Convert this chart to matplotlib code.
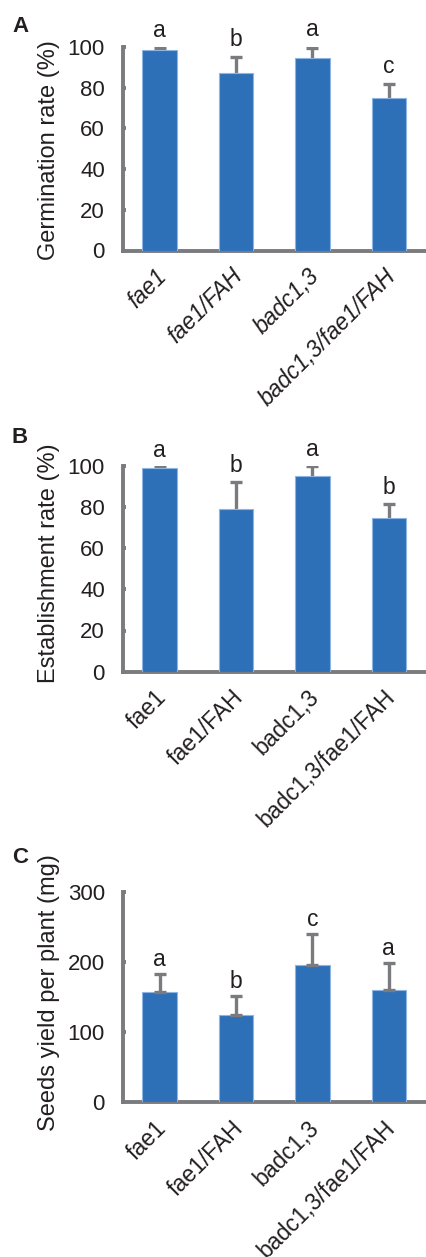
import numpy as np
import matplotlib
matplotlib.use("Agg")
import matplotlib.pyplot as plt
import matplotlib.transforms as mtrans

plt.rcParams['font.family'] = ['Liberation Sans', 'DejaVu Sans']

genotypes = ['fae1', 'fae1/FAH', 'badc1,3', 'badc1,3/fae1/FAH']

germination = [98.4, 87.4, 94.4, 74.8]
germination_err = [1.0, 7.7, 5.3, 7.2]
germination_sig = ['a', 'b', 'a', 'c']

establishment = [98.7, 78.8, 94.9, 74.8]
establishment_err = [1.0, 13.4, 5.0, 6.5]
establishment_sig = ['a', 'b', 'a', 'b']

seed_yield = [157, 124, 196, 161]
seed_yield_err = [26, 28, 44, 38]
seed_yield_sig = ['a', 'b', 'c', 'a']

BAR = '#2e70b8'
EDGE = '#8db4e2'
GREY = '#7a7b7e'
TXT = '#231f20'

W, H = 427, 1257
fig = plt.figure(figsize=(W / 100, H / 100), dpi=100)


def px_axes(top, bottom, left=123):
    return fig.add_axes([left / W, 1 - bottom / H, 1 - left / W, (bottom - top) / H])


def panel(ax, vals, errs, sig, ymax, step, ylabel, label_y, italic, both_caps, txt_off):
    x = np.arange(len(vals))
    ax.bar(x, vals, width=0.45, color=BAR, edgecolor=EDGE, linewidth=0.8, zorder=3)
    if both_caps:
        ax.errorbar(x, vals, yerr=[np.zeros(len(errs)), errs], fmt='none', ecolor=GREY,
                    elinewidth=2.4, capsize=4, capthick=2.4, zorder=4)
    else:
        # lower half sits behind the bar
        ax.errorbar(x, vals, yerr=errs, fmt='none', ecolor=GREY,
                    elinewidth=2.4, capsize=4, capthick=2.4, zorder=2)
    for xi, v, e, s in zip(x, vals, errs, sig):
        ax.annotate(s, (xi, v + e), xytext=(0, txt_off), textcoords='offset points',
                    ha='center', va='baseline', fontsize=16.5, color=TXT)
    ax.set_xlim(-0.48, 3.5)
    ax.set_ylim(0, ymax)
    ax.set_yticks(np.arange(0, ymax + 1, step))
    for side in ['top', 'right']:
        ax.spines[side].set_visible(False)
    for side in ['left', 'bottom']:
        ax.spines[side].set_color(GREY)
        ax.spines[side].set_linewidth(2.8)
    ax.tick_params(axis='y', direction='in', length=2.5, width=2.8, color=GREY,
                   labelsize=16, labelcolor=TXT, pad=13)
    ax.tick_params(axis='x', length=0, pad=10)
    ax.set_xticks(x)
    ax.set_xticklabels(genotypes, rotation=45, ha='right', va='top', rotation_mode='anchor',
                       fontsize=16.5, color=TXT, style='italic' if italic else 'normal')
    shift = mtrans.ScaledTranslation(-5 / 100, 0, fig.dpi_scale_trans)
    for lab in ax.get_xticklabels():
        lab.set_transform(lab.get_transform() + shift)
    ax.set_ylabel(ylabel, fontsize=17, color=TXT)
    ax.yaxis.set_label_coords(-0.207, label_y)
    ax.patch.set_alpha(0)


axA = px_axes(47, 250.5)
panel(axA, germination, germination_err, germination_sig, 100, 20,
      'Germination rate (%)', 0.494, True, False, 8)

axB = px_axes(465.7, 671.7)
panel(axB, establishment, establishment_err, establishment_sig, 100, 20,
      'Establishment rate (%)', 0.528, False, False, 7)

axC = px_axes(892.3, 1102.3)
panel(axC, seed_yield, seed_yield_err, seed_yield_sig, 300, 100,
      'Seeds yield per plant (mg)', 0.523, False, True, 6)

for letter, ybase in [('A', 32), ('B', 443), ('C', 863)]:
    fig.text(12 / W, 1 - ybase / H, letter, fontsize=16, fontweight='bold',
             color=TXT, ha='left', va='baseline')

fig.savefig('out.png', dpi=100)
